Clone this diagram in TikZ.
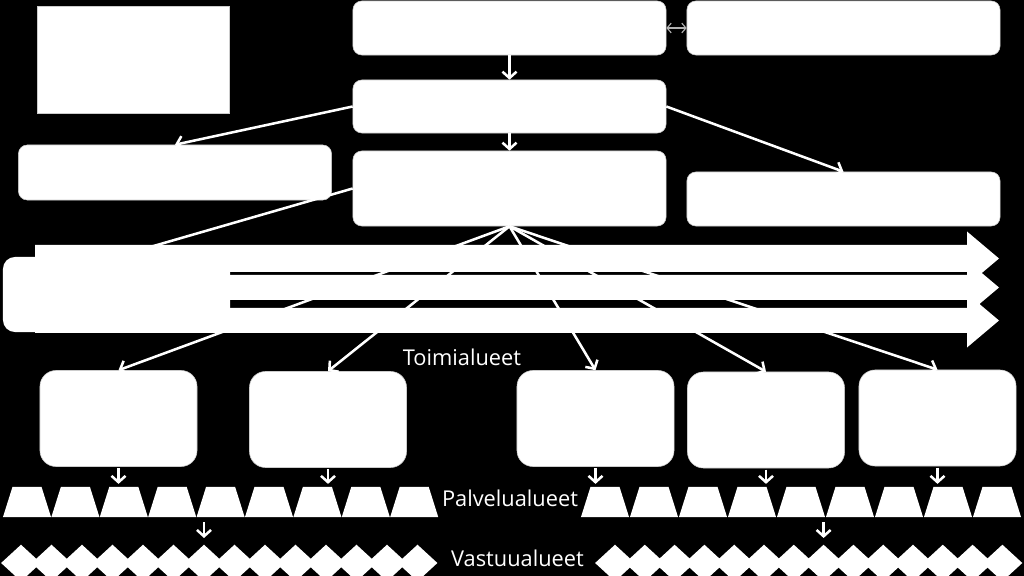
\documentclass[tikz,border=0pt]{standalone}
\usepackage{fontspec}
\setmainfont{Open Sans}
\usetikzlibrary{arrows.meta,shapes.geometric}

\begin{document}
\begin{tikzpicture}[
    x=0.025cm, y=-0.025cm,
    every node/.style={font=\fontsize{15.5}{18}\selectfont, text=white},
    box/.style={rectangle, rounded corners=0.22cm, draw=white!80!black, fill=white,
        inner sep=0pt, minimum width=7.825cm, minimum height=1.35cm},
    unitbox/.style={rectangle, rounded corners=0.4cm, draw=white!80!black, fill=white,
        inner sep=0pt, minimum width=3.925cm, minimum height=2.4cm},
    trapbox/.style={trapezium, trapezium angle=72, trapezium stretches=true, fill=white,
        inner sep=0.5pt, minimum width=1.2cm, minimum height=0.75cm},
    gembox/.style={diamond, fill=white, inner sep=0.5pt, minimum width=1.0cm, minimum height=0.92cm},
    link/.style={-{Straight Barb[length=4.5pt,width=10pt]}, line width=1.8pt, white},
    bigarrow/.style={fill=white},
]

% Background
\useasboundingbox (0,0) rectangle (1024,576);
\fill[black] (0,0) rectangle (1024,576);

% Top levels
\node[rectangle, fill=white, draw=white!80!black, inner sep=0pt,
    minimum width=4.8cm, minimum height=2.675cm] (corner) at (133,59.5) {};
\node[box] (top) at (509.5,28) {};
\node[box] (partner) at (843.5,28) {};
\node[box, minimum height=1.325cm] (second) at (509.5,106.5) {};
\node[box, minimum height=1.375cm] (leftbox) at (175,172.5) {};
\node[box, minimum height=1.875cm] (main) at (509.5,188.5) {};
\node[box] (rightbox) at (843.5,199) {};

% Block arrows
\foreach \c/\s in {258.5/13.5, 287.5/12.5, 320.5/12.5}
    \fill[bigarrow] (35,\c-\s) -- (967,\c-\s) -- (967,\c-27) -- (999,\c)
        -- (967,\c+27) -- (967,\c+\s) -- (35,\c+\s) -- cycle;
\node[rectangle, rounded corners=0.3cm, fill=white, inner sep=0pt,
    minimum width=5.675cm, minimum height=1.875cm] (group) at (116.5,294.5) {};

% Toimialueet
\node[unitbox] (t1) at (118.5,418.5) {};
\node[unitbox] (t2) at (328,419.5) {};
\node[unitbox] (t3) at (595.5,418.5) {};
\node[unitbox] (t4) at (766,420) {};
\node[unitbox] (t5) at (937.5,418) {};

% Palvelualueet and vastuualueet
\foreach \i in {1,...,9} {
    \node[trapbox] (p\i) at (27+48.4*\i-48.4, 502) {};
    \node[trapbox] (q\i) at (605+49*\i-49, 502) {};
}
\foreach \i in {1,...,14} {
    \node[gembox] (v\i) at (21+30.5*\i-30.5, 563) {};
    \node[gembox] (w\i) at (615+29.8*\i-29.8, 563) {};
}

% Labels
\node (toimi) at (462,357) {Toimialueet};
\node (palvelu) at (510,498) {Palvelualueet};
\node (vastuu) at (517.5,558.5) {Vastuualueet};

% Arrows
\draw[{Straight Barb[length=3pt,width=7pt]}-{Straight Barb[length=3pt,width=7pt]},
    white!70!black, line width=0.8pt] (top) -- (partner);
\draw[link] (top) -- (second);
\draw[link] (second) -- (main);
\draw[link] (second.west) -- (leftbox.north);
\draw[link] (second.east) -- (rightbox.north);
\draw[link] (main.west) -- (group.north);
\foreach \i in {1,...,5}
    \draw[link] (main.south) -- (t\i.north);
\foreach \i in {1,...,5}
    \draw[link, shorten <=1pt, shorten >=2pt] (t\i.south) -- (t\i.south |- p1.north);
\draw[link, shorten <=3.5pt, shorten >=4.5pt] (v7.north |- p5.south) -- (v7.north);
\draw[link, shorten <=3.5pt, shorten >=4.5pt] (w8.north |- q5.south) -- (w8.north);

\end{tikzpicture}
\end{document}
